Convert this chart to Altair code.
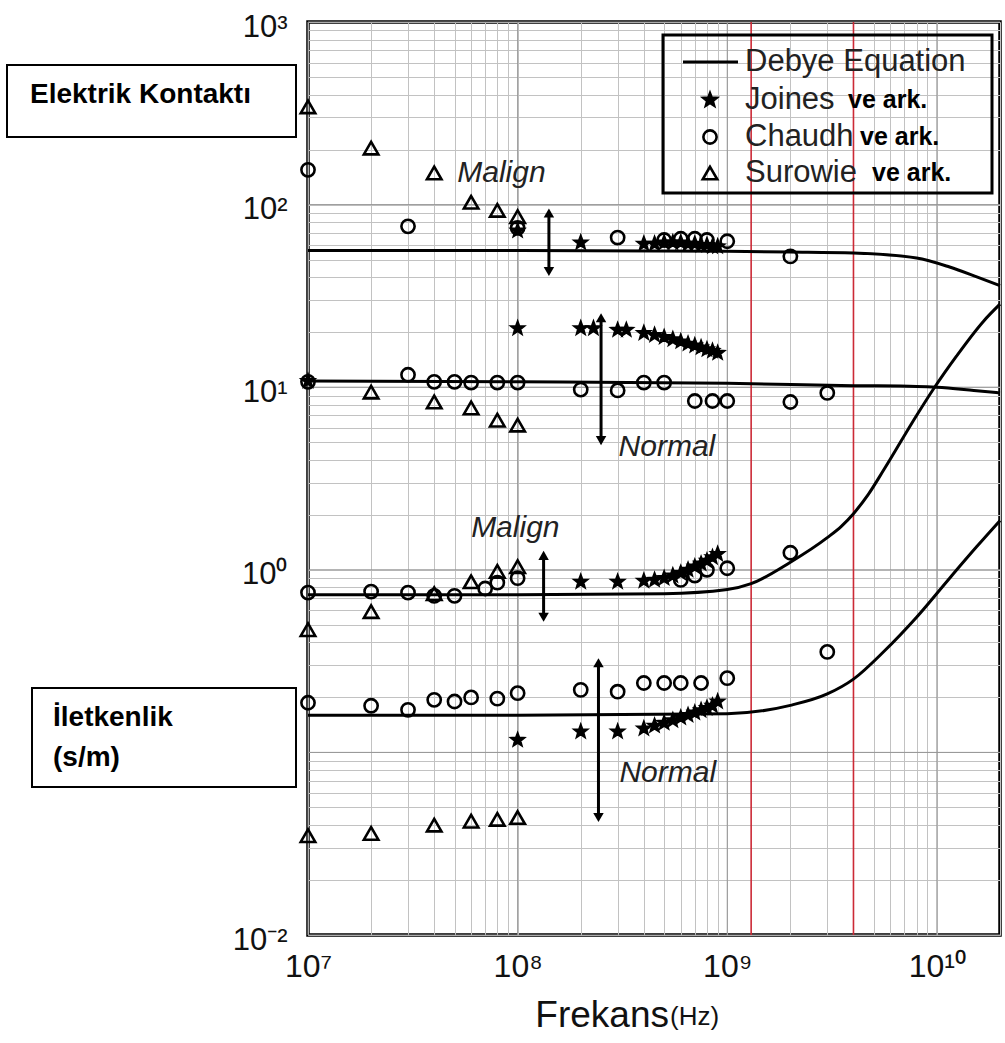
import altair as alt
import pandas as pd

# ---------------- data ----------------
FONT = "Liberation Sans"
STAR = ("M0,-1L0.247,-0.34L0.951,-0.309L0.399,0.13L0.588,0.809L0,0.42L-0.588,0.809"
        "L-0.399,0.13L-0.951,-0.309L-0.247,-0.34Z")

# Debye equation curves (frequency Hz, value)
debye_perm_mal_f = [1e7, 1e8, 1e9, 2e9, 4e9, 8e9, 1.15e10, 1.55e10, 2e10]
debye_perm_mal_v = [56, 56, 55.5, 55, 54.3, 51, 45.5, 40.2, 36]
debye_perm_nor_f = [1e7, 1e8, 1e9, 4e9, 8e9, 1e10, 1.5e10, 2e10]
debye_perm_nor_v = [10.8, 10.7, 10.5, 10.2, 10.1, 10.0, 9.6, 9.3]
debye_cond_mal_f = [1e7, 1e8, 5e8, 1e9, 1.3e9, 2e9, 3e9, 3.5e9, 4e9, 4.7e9, 5.6e9, 8e9, 9.7e9,
                    1.24e10, 1.67e10, 2e10]
debye_cond_mal_v = [0.73, 0.73, 0.74, 0.78, 0.84, 1.1, 1.5, 1.73, 2.03, 2.58, 3.55, 7.0, 9.9,
                    14.8, 23, 28.5]
debye_cond_nor_f = [1e7, 1e8, 1e9, 2e9, 3e9, 4e9, 5.6e9, 8e9, 1.15e10, 1.55e10, 2e10]
debye_cond_nor_v = [0.16, 0.16, 0.163, 0.181, 0.209, 0.252, 0.358, 0.55, 0.9, 1.34, 1.86]

# Joines ve ark. (filled stars)
joines_f = [1e8, 2e8, 4e8, 4.5e8, 5e8, 5.5e8, 6e8, 6.5e8, 7e8, 7.5e8, 8e8, 8.5e8, 9e8,
            1e7, 1e8, 2e8, 2.3e8, 3e8, 3.3e8, 4e8, 4.5e8, 5e8, 5.5e8, 6e8, 6.5e8, 7e8, 7.5e8, 8e8, 8.5e8, 9e8,
            2e8, 3e8, 4e8, 4.5e8, 5e8, 5.5e8, 6e8, 6.5e8, 7e8, 7.5e8, 8e8, 8.5e8, 9e8,
            1e8, 2e8, 3e8, 4e8, 4.5e8, 5e8, 5.5e8, 6e8, 6.5e8, 7e8, 7.5e8, 8e8, 8.5e8, 9e8]
joines_v = [72, 62, 61, 61, 62, 62, 62, 61, 61, 60, 60, 59, 59,
            10.8, 21, 21, 21, 20.6, 20.6, 19.8, 19.3, 18.8, 18.3, 17.8, 17.3, 16.9, 16.5, 16.1, 15.8, 15.4,
            0.86, 0.86, 0.87, 0.88, 0.9, 0.93, 0.96, 1.0, 1.04, 1.08, 1.12, 1.17, 1.22,
            0.117, 0.13, 0.13, 0.135, 0.14, 0.145, 0.15, 0.155, 0.16, 0.165, 0.17, 0.175, 0.18, 0.19]

# Chaudh.. ve ark. (open circles)
chaudh_f = [1e7, 3e7, 1e8, 3e8, 5e8, 6e8, 7e8, 8e8, 1e9, 2e9,
            1e7, 3e7, 4e7, 5e7, 6e7, 8e7, 1e8, 2e8, 3e8, 4e8, 5e8, 7e8, 8.5e8, 1e9, 2e9, 3e9,
            1e7, 2e7, 3e7, 4e7, 5e7, 7e7, 8e7, 1e8, 6e8, 7e8, 8e8, 1e9, 2e9,
            1e7, 2e7, 3e7, 4e7, 5e7, 6e7, 8e7, 1e8, 2e8, 3e8, 4e8, 5e8, 6e8, 7.5e8, 1e9, 3e9]
chaudh_v = [155, 76, 74.5, 66, 64, 65, 65, 64, 63, 52,
            10.7, 11.7, 10.7, 10.7, 10.6, 10.6, 10.6, 9.7, 9.6, 10.6, 10.6, 8.4, 8.4, 8.4, 8.3, 9.3,
            0.75, 0.76, 0.75, 0.72, 0.72, 0.79, 0.85, 0.9, 0.88, 0.93, 1.0, 1.02, 1.24,
            0.187, 0.18, 0.171, 0.194, 0.19, 0.2, 0.197, 0.211, 0.22, 0.215, 0.24, 0.24, 0.24, 0.24, 0.255, 0.355]

# Surowie.. ve ark. (open triangles)
surow_f = [1e7, 2e7, 4e7, 6e7, 8e7, 1e8,
           2e7, 4e7, 6e7, 8e7, 1e8,
           1e7, 2e7, 4e7, 6e7, 8e7, 1e8,
           1e7, 2e7, 4e7, 6e7, 8e7, 1e8]
surow_v = [343, 204, 149, 103, 93, 86,
           9.4, 8.3, 7.7, 6.6, 6.2,
           0.47, 0.59, 0.74, 0.86, 0.98, 1.04,
           0.035, 0.036, 0.040, 0.042, 0.043, 0.044]

# marked frequencies (red vertical lines)
red_lines_f = [1.3e9, 4e9]

# Malign / Normal labels and double arrows
annot_text = ["Malign", "Normal", "Malign", "Normal"]
annot_f = [5.15e7, 3.03e8, 6.0e7, 3.06e8]
annot_v = [149, 4.7, 1.69, 0.077]
arrow_f = [1.41e8, 2.5e8, 1.33e8, 2.43e8]
arrow_top = [90, 24, 1.2, 0.31]
arrow_bottom = [43, 5.1, 0.55, 0.044]

legend_names = ["Debye Equation", "Joines", "Chaudh", "Surowie"]
x_decades = [1e7, 1e8, 1e9, 1e10]
y_decades = [0.01, 0.1, 1.0, 10.0, 100.0, 1000.0]

# ---------------- tables ----------------
curves = pd.concat([
    pd.DataFrame({"f": debye_perm_mal_f, "v": debye_perm_mal_v, "curve": "perm_mal"}),
    pd.DataFrame({"f": debye_perm_nor_f, "v": debye_perm_nor_v, "curve": "perm_nor"}),
    pd.DataFrame({"f": debye_cond_mal_f, "v": debye_cond_mal_v, "curve": "cond_mal"}),
    pd.DataFrame({"f": debye_cond_nor_f, "v": debye_cond_nor_v, "curve": "cond_nor"}),
], ignore_index=True)

joines = pd.DataFrame({"f": joines_f, "v": joines_v})
chaudh = pd.DataFrame({"f": chaudh_f, "v": chaudh_v})
surow = pd.DataFrame({"f": surow_f, "v": surow_v})

annots = pd.DataFrame({"f": annot_f, "v": annot_v, "text": annot_text})
arrows = pd.DataFrame({"f": arrow_f, "v": arrow_top, "v2": arrow_bottom})
reds = pd.DataFrame({"f": red_lines_f})
xdec = pd.DataFrame({"f": x_decades})
ydec = pd.DataFrame({"v": y_decades})
one = pd.DataFrame({"a": [0]})

# ---------------- scales / axes ----------------
x_grid = [k * 10 ** d for d in range(7, 11) for k in range(1, 10) if k * 10 ** d <= 2e10]
y_grid = [k * 10.0 ** d for d in range(-2, 3) for k in range(1, 10)] + [1000.0]

xscale = alt.Scale(type="log", domain=[1e7, 2e10], nice=False)
yscale = alt.Scale(type="log", domain=[0.01, 1000], nice=False)

x_label_expr = ("datum.value == 10000000 ? '10⁷' : datum.value == 100000000 ? '10⁸' : "
                "datum.value == 1000000000 ? '10⁹' : datum.value == 10000000000 ? '10¹⁰' : ''")
y_label_expr = ("datum.value == 1000 ? '10³' : datum.value == 100 ? '10²' : datum.value == 10 ? '10¹' : "
                "datum.value == 1 ? '10⁰' : datum.value == 0.01 ? '10⁻²' : ''")

xaxis = alt.Axis(values=x_grid, labelExpr=x_label_expr, grid=True, gridColor="#c2c2c2",
                 gridWidth=1, ticks=False, domain=False, labelFontSize=32, labelFont=FONT,
                 labelColor="#111111", labelPadding=16, labelOverlap=False, labelFlush=False,
                 labelBaseline="top", title=None, orient="bottom")
yaxis = alt.Axis(values=y_grid, labelExpr=y_label_expr, grid=True, gridColor="#c2c2c2",
                 gridWidth=1, ticks=False, domain=False, labelFontSize=31, labelFont=FONT,
                 labelColor="#111111", labelPadding=21, labelOverlap=False, labelFlush=False,
                 labelOffset=5, title=None, orient="left")

X = alt.X("f:Q", scale=xscale)
Y = alt.Y("v:Q", scale=yscale)

# decade grid lines (darker)
xdec_layer = alt.Chart(xdec).mark_rule(color="#959595", strokeWidth=1).encode(
    x=alt.X("f:Q", scale=xscale, axis=xaxis))
ydec_layer = alt.Chart(ydec).mark_rule(color="#959595", strokeWidth=1).encode(
    y=alt.Y("v:Q", scale=yscale, axis=yaxis))

red_layer = alt.Chart(reds).mark_rule(color="#cc2a36", strokeWidth=1.6).encode(x=X)

lines = alt.Chart(curves).mark_line(color="black", strokeWidth=3, interpolate="monotone").encode(
    x=X, y=Y, detail="curve:N")

joines_layer = alt.Chart(joines).mark_point(shape=STAR, filled=True, fill="black", stroke="black",
                                            strokeWidth=2, size=190, opacity=1).encode(x=X, y=Y)
chaudh_layer = alt.Chart(chaudh).mark_point(shape="circle", filled=False, stroke="black",
                                            strokeWidth=2.6, size=175, opacity=1).encode(x=X, y=Y)
surow_layer = alt.Chart(surow).mark_point(shape="triangle-up", filled=False, stroke="black",
                                          strokeWidth=2.6, size=210, opacity=1).encode(x=X, y=Y)

arrow_shaft = alt.Chart(arrows).mark_rule(color="black", strokeWidth=3).encode(x=X, y=Y, y2="v2:Q")
arrow_up = alt.Chart(arrows).mark_point(shape="triangle-up", filled=True, color="black", size=110,
                                        opacity=1).encode(x=X, y=Y)
arrow_down = alt.Chart(arrows).mark_point(shape="triangle-down", filled=True, color="black", size=110,
                                          opacity=1).encode(x=X, y=alt.Y("v2:Q", scale=yscale))

annot_layer = alt.Chart(annots).mark_text(align="left", baseline="middle", font=FONT, fontSize=30,
                                          fontStyle="italic", color="#222222").encode(
    x=X, y=Y, text="text:N")


def fixed_text(txt, x, y, size, weight="normal", align="left", baseline="middle", color="black"):
    return alt.Chart(one).mark_text(align=align, baseline=baseline, font=FONT, fontSize=size,
                                    fontWeight=weight, color=color).encode(
        x=alt.value(x), y=alt.value(y), text=alt.value(txt))


def fixed_box(x1, x2, y1, y2, sw=2, fill="white"):
    return alt.Chart(one).mark_rect(fill=fill, stroke="black", strokeWidth=sw).encode(
        x=alt.value(x1), x2=alt.value(x2), y=alt.value(y1), y2=alt.value(y2))


def fixed_symbol(shape, x, y, filled, size):
    return alt.Chart(one).mark_point(shape=shape, filled=True,
                                     fill="black" if filled else "transparent", stroke="black",
                                     strokeWidth=2.6, size=size, opacity=1).encode(
        x=alt.value(x), y=alt.value(y))


# legend (drawn by hand: mixed regular / bold labels)
LX, LY = 355, 13
legend_layers = [
    fixed_box(LX, LX + 329, LY, LY + 158, sw=3, fill="transparent"),
    alt.Chart(one).mark_rule(color="black", strokeWidth=3).encode(
        x=alt.value(LX + 20), x2=alt.value(LX + 75), y=alt.value(LY + 27)),
    fixed_symbol(STAR, LX + 47, LY + 65, True, 190),
    fixed_symbol("circle", LX + 47, LY + 102, False, 175),
    fixed_symbol("triangle-up", LX + 47, LY + 138, False, 210),
    fixed_text(legend_names[0], LX + 82, LY + 27, 31, color="#222222"),
    fixed_text(legend_names[1], LX + 82, LY + 65, 31, color="#222222"),
    fixed_text(legend_names[2], LX + 82, LY + 102, 31, color="#222222"),
    fixed_text(legend_names[3], LX + 82, LY + 138, 31, color="#222222"),
    fixed_text("ve ark.", LX + 185, LY + 65, 25, "bold"),
    fixed_text("ve ark.", LX + 197, LY + 102, 25, "bold"),
    fixed_text("ve ark.", LX + 209, LY + 138, 25, "bold"),
]

layers = [
    xdec_layer, ydec_layer, red_layer, lines, arrow_shaft, arrow_up, arrow_down,
    surow_layer, chaudh_layer, joines_layer, annot_layer,
] + legend_layers + [
    fixed_box(-301, -12, 43, 115),
    fixed_text("Elektrik Kontaktı", -278, 73, 28, "bold"),
    fixed_box(-276, -12, 666, 765),
    fixed_text("İletkenlik", -255, 696, 28, "bold"),
    fixed_text("(s/m)", -255, 736, 28, "bold"),
    fixed_text("Frekans", 361, 1005, 37, "normal", "right", "alphabetic", "#111111"),
    fixed_text("(Hz)", 362, 1003, 26, "normal", "left", "alphabetic", "#111111"),
]

chart = alt.layer(*layers).properties(
    width=692, height=913,
    autosize=alt.AutoSizeParams(type="none"),
    padding={"left": 308, "top": 22, "right": 5, "bottom": 108},
).configure_view(stroke="black", strokeWidth=3.5)

chart.save("out.html", embed_options={"renderer": "svg", "actions": False})
